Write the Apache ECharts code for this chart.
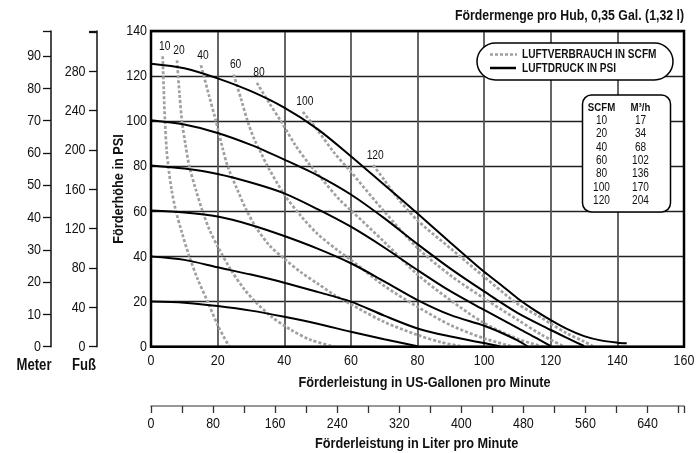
<!DOCTYPE html>
<html><head><meta charset="utf-8">
<script src="https://cdn.jsdelivr.net/npm/echarts@6/dist/echarts.min.js"></script>
<style>html,body{margin:0;padding:0;background:#fff}#c{width:700px;height:453px}</style>
</head><body><div id="c"></div>
<script>
const FONT = "'Liberation Sans', Arial, sans-serif";
const NARROW = 0.82;

// ---- data ----
const psi125 = [[0,125.5],[10,123.5],[20,119],[30,113.3],[40,106],[50,96.5],[60,84.5],[70,71.8],[80,59.1],[90,46],[100,33.2],[105,27.5],[110,21.5],[115,16.3],[120,11.8],[125,7.8],[130,4.7],[135,2.8],[140,1.8],[142.8,1.5]];
const psi100 = [[0,100.4],[10,98.5],[20,94.8],[30,89.5],[40,83],[50,76],[60,67.5],[70,57],[80,45.5],[90,34.5],[100,24.5],[110,15],[120,7.4],[125,3.8],[130,0.3]];
const psi80  = [[0,80.4],[10,79],[20,76.6],[30,72.8],[40,68],[50,61],[60,53.2],[70,44],[80,34],[90,24.5],[100,16.3],[110,8.3],[115,4.4],[120,0.3]];
const psi60  = [[0,60.4],[10,59.5],[20,57.7],[30,54],[40,49.1],[50,43.5],[60,37],[70,29],[80,20.7],[90,14],[100,9.3],[105,6.3],[110,2.8],[113,0.2]];
const psi40  = [[0,40],[10,38.5],[20,35.2],[30,32],[40,28.4],[50,24.3],[60,20],[70,13.8],[80,8.1],[90,4.5],[100,1.6],[104.7,0.2]];
const psi20  = [[0,20],[10,19.5],[20,18],[30,16],[40,13.3],[50,10.2],[60,6.6],[70,3.3],[80,0.2]];

const scfm10  = [[3.5,128.8],[3.8,115],[4.2,100],[4.7,87],[5.2,80],[6.2,69.4],[7.5,60],[9.4,50],[11.5,40],[14,30],[17,20],[20.2,9],[23.5,0]];
const scfm20  = [[7.8,127],[8.5,113],[9.3,100],[10.3,90],[11.5,80],[13.5,69.4],[15.5,60],[17.5,52],[20,44.5],[24,34],[28,25.5],[31.3,20],[36,13.5],[42,7.5],[48,3],[55,0]];
const scfm40  = [[15,124.8],[17.3,112],[19.5,100],[21.5,88],[23,80],[26,69.4],[28.5,61],[31.5,53],[35.5,45],[40,39],[45,33],[50,28],[55,23],[60,18.8],[70,11],[80,5.2],[87,2],[93.7,0]];
const scfm60  = [[24.8,120.7],[27,110],[29,100],[31,92],[33,86],[35,80],[40,67.5],[45,58],[50,50],[56.7,42],[60,38.5],[70,27],[80,17.7],[90,9.5],[100,3.7],[108.7,0]];
const scfm80  = [[31.8,117],[35.5,108],[39,100],[43.5,89],[47.5,81],[51.5,74],[56.7,65],[60,60.5],[70,46.5],[80,32],[90,20.5],[100,10.5],[110,3.5],[117.7,0]];
const scfm100 = [[45.6,104.1],[50,96],[55,86],[60,77.5],[70,60],[80,43.8],[90,31.5],[100,21.4],[110,12],[117,5.5],[124,0]];
const scfm120 = [[66.7,80.5],[70,74],[73.7,66.5],[80,56],[90,43.5],[100,31],[110,19],[116.7,13.3],[120,10.2],[125,5.8],[130,2.3],[133,0]];

const scfmLabels = ['10','20','40','60','80','100','120'];
const tableScfm = ['10','20','40','60','80','100','120'];
const tableM3h  = ['17','34','68','102','136','170','204'];

const gpmTicks   = [0,20,40,60,80,100,120,140,160];
const psiTicks   = [0,20,40,60,80,100,120,140];
const literTicks = [0,80,160,240,320,400,480,560,640];
const meterTicks = [0,10,20,30,40,50,60,70,80,90];
const footTicks  = [0,40,80,120,160,200,240,280];

const titleText = 'Fördermenge pro Hub, 0,35 Gal. (1,32 l)';
const legendDashed = 'LUFTVERBRAUCH IN SCFM';
const legendSolid = 'LUFTDRUCK IN PSI';
const yName = 'Förderhöhe in PSI';
const xName = 'Förderleistung in US-Gallonen pro Minute';
const litName = 'Förderleistung in Liter pro Minute';

// ---- build ----
const pressureCurves = [psi125, psi100, psi80, psi60, psi40, psi20];
const scfmCurves = [scfm10, scfm20, scfm40, scfm60, scfm80, scfm100, scfm120];

const series = [];
scfmCurves.forEach((d, i) => series.push({
  type: 'line', name: 'SCFM ' + scfmLabels[i], data: d, smooth: 0.3,
  showSymbol: false, silent: true, z: 2,
  lineStyle: { color: '#a0a0a0', width: 2.7, type: [3, 2] }
}));
pressureCurves.forEach(d => series.push({
  type: 'line', data: d, smooth: 0.3, showSymbol: false, silent: true, z: 3,
  lineStyle: { color: '#000', width: 2 }
}));

function txt(x, y, text, size, bold, align, extra) {
  return Object.assign({
    type: 'text', x: x, y: y, z: 100, scaleX: NARROW,
    style: { text: text, font: (bold ? 'bold ' : '') + size + 'px ' + FONT, fill: '#111',
      align: align || 'center', verticalAlign: 'middle' }
  }, extra || {});
}

const hidden = { show: false };
const chart = echarts.init(document.getElementById('c'), null, { renderer: 'canvas' });
chart.setOption({
  animation: false,
  backgroundColor: '#fff',
  grid: { left: 151, right: 16, top: 31, bottom: 106.3, show: true, borderColor: '#000', borderWidth: 2.5, backgroundColor: 'transparent', z: 5 },
  xAxis: [
    { type: 'value', min: 0, max: 160, interval: 20, position: 'bottom',
      axisLine: hidden, axisTick: hidden, axisLabel: hidden,
      splitLine: { show: true, lineStyle: { color: '#555', width: 1.8 } } },
    { type: 'value', min: 0, max: 687, interval: 40, position: 'bottom', offset: 59.3,
      axisLine: { show: true, onZero: false, lineStyle: { color: '#777', width: 1.5 } },
      axisTick: { show: true, length: 7, lineStyle: { color: '#333', width: 1.3 } },
      axisLabel: hidden, splitLine: hidden }
  ],
  yAxis: [
    { type: 'value', min: 0, max: 140, interval: 20, position: 'left',
      axisLine: hidden, axisTick: hidden, axisLabel: hidden,
      splitLine: { show: true, lineStyle: { color: '#222', width: 1.3 } } },
    { type: 'value', min: 0, max: 97.8, interval: 10, position: 'left', offset: 100,
      axisLine: { show: true, onZero: false, lineStyle: { color: '#111', width: 1.5 } },
      axisTick: { show: true, length: 8, lineStyle: { color: '#111', width: 1.3 } },
      axisLabel: hidden, splitLine: hidden },
    { type: 'value', min: 0, max: 321, interval: 40, position: 'left', offset: 54,
      axisLine: { show: true, onZero: false, lineStyle: { color: '#111', width: 1.5 } },
      axisTick: { show: true, length: 8, lineStyle: { color: '#111', width: 1.3 } },
      axisLabel: hidden, splitLine: hidden }
  ],
  series: series
});

// texts (positions of tick labels come from the axes' own scales)
const g = [];
const px = (opt, v) => chart.convertToPixel(opt, v);
const TICK = 15.2;
gpmTicks.forEach(v => g.push(txt(px({ xAxisIndex: 0 }, v), 361, String(v), TICK, false, 'center')));
literTicks.forEach(v => g.push(txt(px({ xAxisIndex: 1 }, v), 424, String(v), TICK, false, 'center')));
psiTicks.forEach(v => g.push(txt(147, px({ yAxisIndex: 0 }, v), String(v), TICK, false, 'right')));
meterTicks.forEach(v => g.push(txt(41, px({ yAxisIndex: 1 }, v), String(v), TICK, false, 'right')));
footTicks.forEach(v => g.push(txt(85.5, px({ yAxisIndex: 2 }, v), String(v), TICK, false, 'right')));
scfmCurves.forEach((c, i) => {
  const p = chart.convertToPixel({ xAxisIndex: 0, yAxisIndex: 0 }, c[0]);
  g.push(txt(p[0] + 2, p[1] - 10, scfmLabels[i], 12.5, false, 'center'));
});
g.push(txt(684, 16, titleText, 15, true, 'right'));
g.push(txt(424.5, 383, xName, 15.5, true, 'center'));
g.push(txt(416.7, 444, litName, 15.5, true, 'center'));
g.push(txt(119, 189, yName, 15.5, true, 'center', { rotation: Math.PI / 2 }));
g.push(txt(34, 366, 'Meter', 16, true, 'center'));
g.push(txt(84, 366, 'Fuß', 16, true, 'center'));
g.push({ type: 'rect', z: 99, shape: { x: 477, y: 43, width: 196, height: 37, r: 18.5 }, style: { fill: '#fff', stroke: '#000', lineWidth: 1.5 } });
g.push({ type: 'line', z: 101, shape: { x1: 490, y1: 54.5, x2: 517, y2: 54.5 }, style: { stroke: '#a0a0a0', lineWidth: 2.5, lineDash: [3, 2] } });
g.push({ type: 'line', z: 101, shape: { x1: 490, y1: 68, x2: 516, y2: 68 }, style: { stroke: '#000', lineWidth: 2.5 } });
g.push(txt(522, 55, legendDashed, 12.3, true, 'left'));
g.push(txt(522, 69, legendSolid, 12.3, true, 'left'));
g.push({ type: 'rect', z: 99, shape: { x: 582.5, y: 95, width: 88, height: 117, r: 9 }, style: { fill: '#fff', stroke: '#000', lineWidth: 1.5 } });
g.push(txt(601.5, 108, 'SCFM', 11.8, true, 'center'));
g.push(txt(640.5, 108, 'M³/h', 11.8, true, 'center'));
tableScfm.forEach((t, i) => {
  g.push(txt(601.5, 120.5 + i * 13.4, t, 12.3, false, 'center'));
  g.push(txt(640.5, 120.5 + i * 13.4, tableM3h[i], 12.3, false, 'center'));
});
chart.setOption({ graphic: g });
</script></body></html>
